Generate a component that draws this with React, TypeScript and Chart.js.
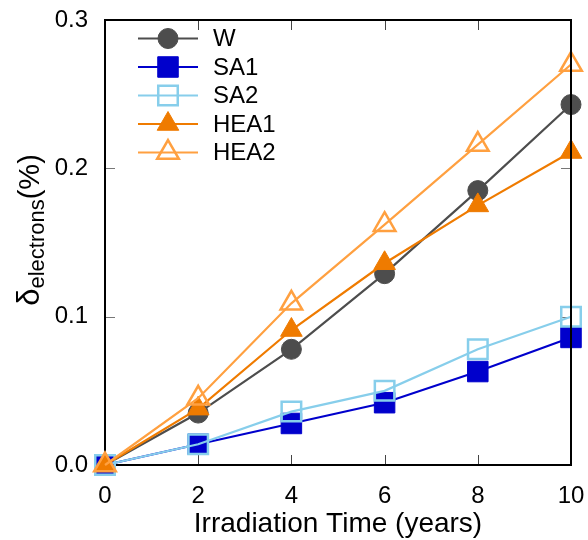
import React, { useEffect, useRef } from 'react';
import { Chart, registerables } from 'chart.js';

Chart.register(...registerables);

const years = [0, 2, 4, 6, 8, 10];
const W = [0, 0.035, 0.078, 0.129, 0.185, 0.243];
const SA1 = [0, 0.014, 0.028, 0.042, 0.063, 0.086];
const SA2 = [0, 0.014, 0.036, 0.05, 0.078, 0.1];
const HEA1 = [0, 0.038, 0.091, 0.136, 0.175, 0.211];
const HEA2 = [0, 0.045, 0.109, 0.162, 0.216, 0.27];
const seriesNames = ['W', 'SA1', 'SA2', 'HEA1', 'HEA2'];
const xTicks = [0, 2, 4, 6, 8, 10];
const yTicks = [0, 0.1, 0.2, 0.3];
const xTitle = 'Irradiation Time (years)';
const yTitleSymbol = 'δ';
const yTitleSub = 'electrons';
const yTitleTail = '(%)';

const FONT = '"Liberation Sans", Arial, Helvetica, sans-serif';

type Style = { color: string; shape: 'circle' | 'rect' | 'triangle'; filled: boolean; r: number };
const styles: Style[] = [
  { color: '#4d4d4d', shape: 'circle', filled: true, r: 10 },
  { color: '#0000cc', shape: 'rect', filled: true, r: 14.5 },
  { color: '#87ceeb', shape: 'rect', filled: false, r: 13.8 },
  { color: '#ef7b00', shape: 'triangle', filled: true, r: 12.5 },
  { color: '#ffa040', shape: 'triangle', filled: false, r: 12.5 },
];

function drawMarker(ctx: CanvasRenderingContext2D, s: Style, x: number, y: number) {
  ctx.save();
  ctx.beginPath();
  if (s.shape === 'circle') {
    ctx.arc(x, y, s.r, 0, Math.PI * 2);
  } else if (s.shape === 'rect') {
    const h = s.r * Math.SQRT1_2;
    ctx.rect(x - h, y - h, 2 * h, 2 * h);
  } else {
    const r = s.r;
    ctx.moveTo(x, y - r);
    ctx.lineTo(x + r * Math.sin((2 * Math.PI) / 3), y - r * Math.cos((2 * Math.PI) / 3));
    ctx.lineTo(x + r * Math.sin((4 * Math.PI) / 3), y - r * Math.cos((4 * Math.PI) / 3));
    ctx.closePath();
  }
  if (s.filled) {
    ctx.fillStyle = s.color;
    ctx.fill();
    ctx.lineWidth = 1;
  } else {
    ctx.lineWidth = 2.5;
  }
  ctx.strokeStyle = s.color;
  ctx.stroke();
  ctx.restore();
}

const framePlugin = {
  id: 'frameTicks',
  beforeDatasetsDraw(chart: any) {
    const { ctx, chartArea: a, scales } = chart;
    ctx.save();
    ctx.lineWidth = 1;
    const tl = 10;
    ctx.strokeStyle = '#444';
    xTicks.forEach((v) => {
      if (v === 0 || v === 10) return;
      const px = Math.round(scales.x.getPixelForValue(v)) + 0.5;
      ctx.beginPath();
      ctx.moveTo(px, a.bottom);
      ctx.lineTo(px, a.bottom - tl);
      ctx.moveTo(px, a.top);
      ctx.lineTo(px, a.top + tl);
      ctx.stroke();
    });
    ctx.strokeStyle = '#777';
    yTicks.forEach((v) => {
      if (v === 0 || v === 0.3) return;
      const py = Math.round(scales.y.getPixelForValue(v)) + 0.5;
      ctx.beginPath();
      ctx.moveTo(a.left, py);
      ctx.lineTo(a.left + tl, py);
      ctx.moveTo(a.right, py);
      ctx.lineTo(a.right - tl, py);
      ctx.stroke();
    });
    ctx.strokeStyle = '#000';
    ctx.lineWidth = 2;
    ctx.strokeRect(a.left, a.top, a.right - a.left, a.bottom - a.top);
    ctx.restore();
  },
  afterDraw(chart: any) {
    const { ctx, chartArea: a } = chart;
    ctx.save();
    // right border over markers
    ctx.strokeStyle = '#000';
    ctx.lineWidth = 2;
    ctx.beginPath();
    ctx.moveTo(a.right, a.top);
    ctx.lineTo(a.right, a.bottom);
    ctx.stroke();

    // x title
    ctx.fillStyle = '#000';
    ctx.font = `28px ${FONT}`;
    ctx.textAlign = 'center';
    ctx.textBaseline = 'alphabetic';
    ctx.fillText(xTitle, (a.left + a.right) / 2, 532);

    // y title (rotated)
    ctx.save();
    ctx.translate(39, 230);
    ctx.rotate(-Math.PI / 2);
    ctx.textAlign = 'left';
    ctx.textBaseline = 'alphabetic';
    const f1 = `31px ${FONT}`;
    const f2 = `22px ${FONT}`;
    const f3 = `29px ${FONT}`;
    ctx.font = f1;
    const w1 = ctx.measureText(yTitleSymbol).width;
    ctx.font = f2;
    const w2 = ctx.measureText(yTitleSub).width;
    ctx.font = f3;
    const w3 = ctx.measureText(yTitleTail).width;
    let x0 = -(w1 + w2 + w3) / 2;
    ctx.font = f1;
    ctx.fillText(yTitleSymbol, x0, 0);
    x0 += w1;
    ctx.font = f2;
    ctx.fillText(yTitleSub, x0, 5);
    x0 += w2;
    ctx.font = f3;
    ctx.fillText(yTitleTail, x0, 0);
    ctx.restore();

    // legend
    const lx0 = 138;
    const lx1 = 198;
    const mx = 168;
    const tx = 213;
    ctx.font = `24px ${FONT}`;
    ctx.textAlign = 'left';
    ctx.textBaseline = 'middle';
    seriesNames.forEach((name, i) => {
      const y = 38.5 + i * 28.5;
      const s = styles[i];
      ctx.strokeStyle = s.color;
      ctx.lineWidth = 2;
      ctx.beginPath();
      ctx.moveTo(lx0, y);
      ctx.lineTo(lx1, y);
      ctx.stroke();
      drawMarker(ctx, s, mx, y);
      ctx.fillStyle = '#000';
      ctx.fillText(name, tx, y + 1);
    });
    ctx.restore();
  },
};

function zeroPad(scale: any) {
  scale.paddingLeft = 0;
  scale.paddingRight = 0;
  scale.paddingTop = 0;
  scale.paddingBottom = 0;
}

export default function App() {
  const ref = useRef<HTMLCanvasElement | null>(null);
  useEffect(() => {
    if (!ref.current) return;
    const seriesData = [W, SA1, SA2, HEA1, HEA2];
    const datasets = seriesData.map((vals, i) => {
      const s = styles[i];
      return {
        label: seriesNames[i],
        data: years.map((x, j) => ({ x, y: vals[j] })),
        borderColor: s.color,
        borderWidth: 2.2,
        pointStyle: s.shape,
        pointRadius: s.r,
        pointBackgroundColor: s.filled ? s.color : 'rgba(0,0,0,0)',
        pointBorderColor: s.color,
        pointBorderWidth: s.filled ? 1 : 2.5,
        fill: false,
        tension: 0,
        clip: false as any,
        order: seriesData.length - i,
      };
    });
    const chart = new Chart(ref.current, {
      type: 'line',
      data: { datasets: datasets as any },
      plugins: [framePlugin],
      options: {
        responsive: false,
        animation: false,
        layout: { padding: { top: 20, right: 17, left: 0, bottom: 0 } },
        plugins: { legend: { display: false }, tooltip: { enabled: false } },
        scales: {
          x: {
            type: 'linear',
            min: 0,
            max: 10,
            afterBuildTicks: (scale: any) => {
              scale.ticks = xTicks.map((v) => ({ value: v }));
            },
            afterFit: (scale: any) => {
              scale.height = 75;
              zeroPad(scale);
            },
            grid: { display: false, drawTicks: false },
            border: { display: false },
            ticks: {
              color: '#000',
              font: { family: FONT, size: 24 },
              padding: 17,
              maxRotation: 0,
              autoSkip: false,
              callback: (v: any) => String(v),
            },
          },
          y: {
            type: 'linear',
            min: 0,
            max: 0.3,
            afterBuildTicks: (scale: any) => {
              scale.ticks = yTicks.map((v) => ({ value: v }));
            },
            afterFit: (scale: any) => {
              scale.width = 105;
              zeroPad(scale);
            },
            grid: { display: false, drawTicks: false },
            border: { display: false },
            ticks: {
              color: '#000',
              font: { family: FONT, size: 24 },
              padding: 17,
              autoSkip: false,
              callback: (v: any) => Number(v).toFixed(1),
            },
          },
        },
      },
    });
    return () => chart.destroy();
  }, []);
  return (
    <div style={{ position: 'fixed', left: 0, top: 0, width: 588, height: 540, background: '#fff' }}>
      <canvas ref={ref} width={588} height={540} style={{ width: 588, height: 540 }} />
    </div>
  );
}
